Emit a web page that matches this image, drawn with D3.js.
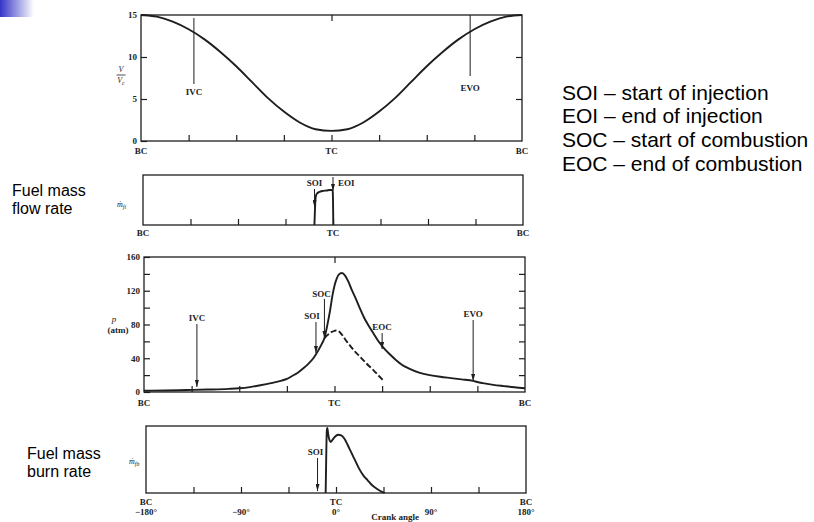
<!DOCTYPE html>
<html>
<head>
<meta charset="utf-8">
<script src="https://cdn.jsdelivr.net/npm/d3@7"></script>
<style>
  body { margin: 0; background: #fff; }
  svg { display: block; }
  .lbl { font-family: "Liberation Serif", "Times New Roman", serif; font-size: 9px; font-weight: bold; fill: #222; }
  .ital { font-family: "Liberation Serif", "Times New Roman", serif; font-style: italic; fill: #222; }
  .note { font-family: "Liberation Sans", Arial, sans-serif; fill: #000; }
</style>
</head>
<body>
<svg id="chart" width="814" height="522"></svg>
<script>
// Crank angle ticks (deg)
const angleTicks = [-135, -90, -45, 0, 45, 90, 135];

// Cylinder volume V/Vc vs crank angle
const volAngle = [-180, -165, -150, -135, -120, -105, -90, -75, -60, -45, -30, -15, 0, 15, 30, 45, 60, 75, 90, 105, 120, 135, 150, 165, 180];
const volRatio = [15, 14.8, 14.2, 13.3, 12.1, 10.6, 8.9, 7.0, 5.1, 3.5, 2.2, 1.4, 1.2, 1.4, 2.2, 3.5, 5.1, 7.0, 8.9, 10.6, 12.1, 13.3, 14.2, 14.8, 15];

// Fuel mass flow rate (relative)
const flowAngle = [-17.6, -17.0, -16.4, -15.2, -13, -10, -6, -3, -0.8, -0.2, 0.3];
const flowRate  = [0, 0.36, 0.56, 0.63, 0.66, 0.68, 0.69, 0.70, 0.70, 0.66, 0];

// Cylinder pressure, firing (atm)
const presAngle = [-180, -160, -140, -120, -100, -90, -80, -70, -60, -50, -45, -40, -35, -30, -25, -20, -17.5, -15, -12, -9.5, -7, -4, -2, 0, 2, 4, 7, 10, 13, 16, 20, 24, 28, 32, 37, 41, 46, 52, 58, 64, 70, 80, 90, 100, 110, 120, 131, 135, 140, 150, 160, 170, 180];
const presFired = [1.5, 1.8, 2.3, 2.9, 3.7, 4.4, 5.8, 8.0, 10.5, 13.5, 15.5, 19, 22.5, 27.5, 33, 40, 44.6, 50, 57, 64, 78, 98, 114, 126, 134, 139, 141, 138, 131, 122, 111, 99, 88, 79, 69, 61, 53, 45, 38, 32, 28, 23, 20, 18, 16.5, 15, 13.2, 11.8, 10.5, 8.5, 7, 5.6, 4.5];

// Motored pressure (dashed)
const motAngle = [-9.5, -6, -3, 0, 2, 4, 7, 11.5, 16, 20, 24, 30, 36.7, 42, 45.5];
const presMotored = [64, 68, 71, 72.5, 73, 72, 68, 60, 53, 47, 42, 34, 26, 19, 14.5];

// Fuel mass burning rate (relative)
const burnAngle = [-9.8, -9.3, -8.7, -8.2, -7.4, -6.2, -5, -3.5, -1, 2, 5, 8, 11, 14, 18, 22, 26, 30, 34, 38, 42, 46];
const burnRate  = [0, 0.5, 0.93, 0.97, 0.88, 0.79, 0.76, 0.79, 0.84, 0.87, 0.86, 0.81, 0.72, 0.62, 0.49, 0.36, 0.26, 0.19, 0.12, 0.07, 0.03, 0];

// Event crank angles
const ivcAngle = -130, evoAngle = 131, soiAngle = -17.5, eoiAngle = 0, socAngle = -9.5, eocAngle = 45;

const notes = ["SOI – start of injection", "EOI – end of injection", "SOC – start of combustion", "EOC – end of combustion"];

const ink = "#1e1e1e";
const svg = d3.select("#chart");
const defs = svg.append("defs");

// blue bullet fade in the corner
const grad = defs.append("linearGradient").attr("id", "corner");
grad.append("stop").attr("offset", "0%").attr("stop-color", "#3535c8");
grad.append("stop").attr("offset", "100%").attr("stop-color", "#ffffff");
svg.append("rect").attr("x", 0).attr("y", 0).attr("width", 34).attr("height", 17).attr("fill", "url(#corner)");

defs.append("marker")
  .attr("id", "arrow")
  .attr("viewBox", "0 0 7 4")
  .attr("refX", 7).attr("refY", 2)
  .attr("markerWidth", 7).attr("markerHeight", 4)
  .attr("markerUnits", "userSpaceOnUse")
  .attr("orient", "auto")
  .append("path").attr("d", "M0,0L7,2L0,4Z").attr("fill", ink);

function panel(box, yDomain) {
  const x = d3.scaleLinear().domain([-180, 180]).range([box.left, box.right]);
  const y = d3.scaleLinear().domain(yDomain).range([box.bottom, box.top]);
  const g = svg.append("g");
  g.append("rect")
    .attr("x", box.left).attr("y", box.top)
    .attr("width", box.right - box.left).attr("height", box.bottom - box.top)
    .attr("fill", "none").attr("stroke", ink).attr("stroke-width", 1.3);
  g.append("g")
    .attr("transform", `translate(0,${box.bottom})`)
    .call(d3.axisBottom(x).tickValues(angleTicks).tickSizeInner(-6).tickSizeOuter(0).tickFormat(""))
    .call(a => a.select(".domain").remove())
    .selectAll("line").attr("stroke", ink).attr("stroke-width", 1.2);
  return { x, y, g };
}

function edgeLabels(p, box, dy) {
  [[-180, "BC"], [0, "TC"], [180, "BC"]].forEach(([a, t]) => {
    p.g.append("text").attr("class", "lbl")
      .attr("x", p.x(a)).attr("y", box.bottom + dy)
      .attr("text-anchor", "middle").text(t);
  });
}

function arrow(g, x, y1, y2) {
  g.append("line").attr("x1", x).attr("x2", x).attr("y1", y1).attr("y2", y2)
    .attr("stroke", ink).attr("stroke-width", 1).attr("marker-end", "url(#arrow)");
}

function label(g, x, y, t, anchor) {
  g.append("text").attr("class", "lbl").attr("x", x).attr("y", y)
    .attr("text-anchor", anchor || "middle").text(t);
}

function curve(g, x, y, xs, ys, dash) {
  const line = d3.line().x(d => x(d[0])).y(d => y(d[1])).curve(d3.curveMonotoneX);
  g.append("path")
    .datum(xs.map((a, i) => [a, ys[i]]))
    .attr("d", line)
    .attr("fill", "none").attr("stroke", ink)
    .attr("stroke-width", 1.9)
    .attr("stroke-dasharray", dash || null);
}

function sideTicks(p, box, values, fmt, labels) {
  const left = p.g.append("g")
    .attr("transform", `translate(${box.left},0)`)
    .call(d3.axisLeft(p.y).tickValues(values).tickSizeInner(-6).tickSizeOuter(0).tickPadding(4).tickFormat(fmt));
  left.select(".domain").remove();
  left.selectAll("line").attr("stroke", ink).attr("stroke-width", 1.2);
  left.selectAll("text").attr("class", "lbl").attr("font-size", null).attr("font-family", null).attr("fill", null);
  const right = p.g.append("g")
    .attr("transform", `translate(${box.right},0)`)
    .call(d3.axisRight(p.y).tickValues(labels).tickSizeInner(-6).tickSizeOuter(0).tickFormat(""));
  right.select(".domain").remove();
  right.selectAll("line").attr("stroke", ink).attr("stroke-width", 1.2);
}

function topTick(p, box) {
  p.g.append("g")
    .attr("transform", `translate(0,${box.top})`)
    .call(d3.axisTop(p.x).tickValues([0]).tickSizeInner(-6).tickSizeOuter(0).tickFormat(""))
    .call(a => a.select(".domain").remove())
    .selectAll("line").attr("stroke", ink).attr("stroke-width", 1.2);
}

// ---- Panel 1: V/Vc ----
const topBox = { left: 141, right: 522, top: 15, bottom: 141 };
const vol = panel(topBox, [0, 15]);
sideTicks(vol, topBox, [0, 5, 10, 15], d => d, [5, 10]);
topTick(vol, topBox);
curve(vol.g, vol.x, vol.y, volAngle, volRatio);
edgeLabels(vol, topBox, 12.5);
vol.g.append("line").attr("x1", vol.x(ivcAngle)).attr("x2", vol.x(ivcAngle)).attr("y1", 18).attr("y2", 84).attr("stroke", ink).attr("stroke-width", 1);
label(vol.g, vol.x(ivcAngle), 95, "IVC");
vol.g.append("line").attr("x1", vol.x(evoAngle)).attr("x2", vol.x(evoAngle)).attr("y1", 15).attr("y2", 76).attr("stroke", ink).attr("stroke-width", 1);
label(vol.g, vol.x(evoAngle), 91, "EVO");
vol.g.append("text").attr("class", "ital").attr("font-size", 8).attr("x", 121).attr("y", 72).attr("text-anchor", "middle").text("V");
vol.g.append("line").attr("x1", 116.5).attr("x2", 125.5).attr("y1", 75).attr("y2", 75).attr("stroke", ink).attr("stroke-width", 0.8);
const vc = vol.g.append("text").attr("class", "ital").attr("font-size", 8).attr("x", 121).attr("y", 83).attr("text-anchor", "middle");
vc.append("tspan").text("V");
vc.append("tspan").attr("font-size", 6).attr("dy", 1.5).text("c");

// ---- Panel 2: fuel mass flow rate ----
const flowBox = { left: 143, right: 523, top: 175, bottom: 225 };
const flow = panel(flowBox, [0, 1]);
curve(flow.g, flow.x, flow.y, flowAngle, flowRate);
edgeLabels(flow, flowBox, 11);
label(flow.g, flow.x(soiAngle), 186, "SOI");
arrow(flow.g, flow.x(soiAngle), 189, 207);
arrow(flow.g, flow.x(eoiAngle), 177, 191);
label(flow.g, flow.x(eoiAngle) + 5, 186, "EOI", "start");
const mfi = flow.g.append("text").attr("class", "ital").attr("font-size", 8).attr("x", 117).attr("y", 207);
mfi.append("tspan").text("ṁ");
mfi.append("tspan").attr("font-size", 6).attr("dy", 1.5).text("fi");

// ---- Panel 3: cylinder pressure ----
const presBox = { left: 144, right: 525, top: 257, bottom: 392 };
const pres = panel(presBox, [0, 160]);
sideTicks(pres, presBox, [0, 20, 40, 60, 80, 100, 120, 140, 160], d => (d % 40 === 0 ? d : ""), [20, 40, 60, 80, 100, 120, 140]);
topTick(pres, presBox);
curve(pres.g, pres.x, pres.y, motAngle, presMotored, "6,2.5");
curve(pres.g, pres.x, pres.y, presAngle, presFired);
edgeLabels(pres, presBox, 13.5);
label(pres.g, pres.x(ivcAngle), 321, "IVC");
arrow(pres.g, pres.x(ivcAngle), 324, 387);
label(pres.g, pres.x(soiAngle) - 4, 319, "SOI");
arrow(pres.g, pres.x(soiAngle), 322, 353);
label(pres.g, pres.x(socAngle) - 3, 297, "SOC");
arrow(pres.g, pres.x(socAngle), 299, 338);
label(pres.g, pres.x(eocAngle), 330, "EOC");
arrow(pres.g, pres.x(eocAngle), 333, 349);
label(pres.g, pres.x(evoAngle), 317, "EVO");
arrow(pres.g, pres.x(evoAngle), 320, 381);
pres.g.append("text").attr("class", "ital").attr("font-size", 9).attr("x", 114).attr("y", 322).attr("text-anchor", "middle").text("p");
pres.g.append("text").attr("class", "lbl").attr("font-weight", "normal").attr("x", 118).attr("y", 333).attr("text-anchor", "middle").text("(atm)");

// ---- Panel 4: fuel mass burning rate ----
const burnBox = { left: 146, right: 526, top: 426, bottom: 493 };
const burn = panel(burnBox, [0, 1]);
curve(burn.g, burn.x, burn.y, burnAngle, burnRate);
edgeLabels(burn, burnBox, 12);
[[-180, "−180°"], [-90, "−90°"], [0, "0°"], [90, "90°"], [180, "180°"]].forEach(([a, t]) => {
  label(burn.g, burn.x(a), burnBox.bottom + 22, t);
});
label(burn.g, burn.x(56), 519.5, "Crank angle");
label(burn.g, burn.x(soiAngle) - 2, 455, "SOI");
arrow(burn.g, burn.x(soiAngle), 458, 491);
const mfb = burn.g.append("text").attr("class", "ital").attr("font-size", 8).attr("x", 129).attr("y", 464);
mfb.append("tspan").text("ṁ");
mfb.append("tspan").attr("font-size", 6).attr("dy", 1.5).text("fb");

// ---- slide text ----
[["Fuel mass", 12, 196], ["flow rate", 12, 214], ["Fuel mass", 27, 459], ["burn rate", 27, 477]].forEach(([t, x, y]) => {
  svg.append("text").attr("class", "note").attr("font-size", 16).attr("x", x).attr("y", y).text(t);
});

svg.selectAll(".defn")
  .data(notes)
  .join("text")
    .attr("class", "note")
    .attr("font-size", 21)
    .attr("x", 562)
    .attr("y", (d, i) => 99.5 + i * 23.7)
    .text(d => d);
</script>
</body>
</html>
